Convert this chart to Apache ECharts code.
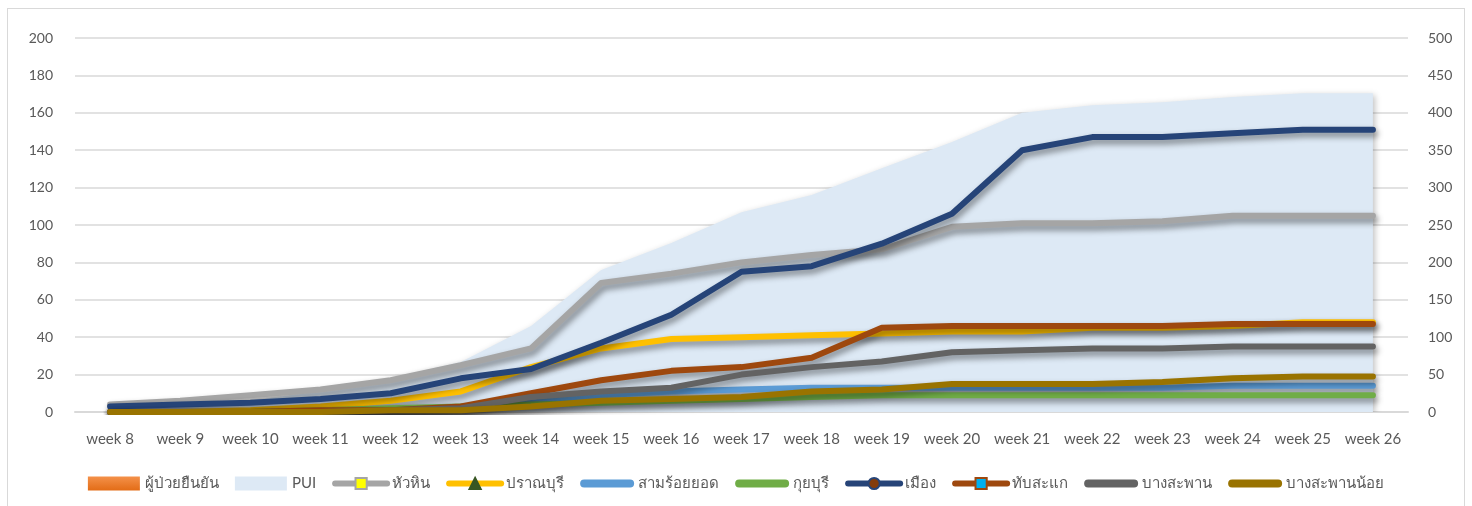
<!DOCTYPE html>
<html>
<head>
    <meta charset="utf-8" />
    <script src="https://cdn.jsdelivr.net/npm/echarts@6/dist/echarts.min.js"></script>
    <title>PUI</title>
    <style>
        html, body { margin: 0; padding: 0; background: #fff; }
        #frame { position: absolute; left: 7px; top: 8px; width: 1458px; height: 498px; border: 1px solid #d9d9d9; border-bottom: none; box-sizing: border-box; }
        #main-chart { position: absolute; left: 0; top: 0; width: 1472px; height: 506px; }
    </style>
</head>
<body>
    <div id="frame"></div>
    <div id="main-chart"></div>
    <script type="text/javascript">
        var weeks = ['week 8', 'week 9', 'week 10', 'week 11', 'week 12', 'week 13', 'week 14', 'week 15', 'week 16', 'week 17',
            'week 18', 'week 19', 'week 20', 'week 21', 'week 22', 'week 23', 'week 24', 'week 25', 'week 26'];
        var leftTicks = [0, 20, 40, 60, 80, 100, 120, 140, 160, 180, 200];
        var rightTicks = [0, 50, 100, 150, 200, 250, 300, 350, 400, 450, 500];

        // ผู้ป่วยยืนยัน - no bars visible in the picture
        var confirmed = [null, null, null, null, null, null, null, null, null, null, null, null, null, null, null, null, null, null, null];
        var pui = [5, 8, 15, 28, 45, 67, 115, 190, 226, 267, 290, 326, 361, 400, 410, 414, 421, 426, 426];
        var huaHin = [4, 6, 9, 12, 17, 25, 34, 69, 74, 80, 84, 87, 99, 101, 101, 102, 105, 105, 105];
        var pranburi = [0, 0, 1, 3, 6, 11, 24, 34, 39, 40, 41, 42, 43, 43, 45, 45, 46, 48, 48];
        var samRoiYot = [0, 0, 0, 0, 1, 2, 5, 9, 11, 12, 13, 13, 13, 13, 13, 13, 14, 14, 14];
        var kuiBuri = [0, 0, 0, 1, 2, 3, 4, 5, 6, 7, 8, 9, 9, 9, 9, 9, 9, 9, 9];
        var mueang = [3, 4, 5, 7, 10, 18, 23, 37, 52, 75, 78, 90, 106, 140, 147, 147, 149, 151, 151];
        var thapSakae = [0, 0, 0, 1, 1, 3, 10, 17, 22, 24, 29, 45, 46, 46, 46, 46, 47, 47, 47];
        var bangSaphan = [0, 0, 0, 0, 1, 2, 8, 11, 13, 20, 24, 27, 32, 33, 34, 34, 35, 35, 35];
        var bangSaphanNoi = [0, 0, 0, 0, 1, 1, 3, 6, 7, 8, 11, 12, 15, 15, 15, 16, 18, 19, 19];

        var shadow = { shadowColor: 'rgba(0,0,0,0.45)', shadowBlur: 6, shadowOffsetX: 2, shadowOffsetY: 4 };
        // thick rounded bar used as legend icon for plain lines
        var barIcon = 'path://M3,0 L49,0 A3,3 0 0 1 49,6 L3,6 A3,3 0 0 1 3,0 Z';

        function lineSeries(name, data, color, symbol, symbolColor, borderColor) {
            return {
                name: name,
                type: 'line',
                data: data,
                yAxisIndex: 0,
                showSymbol: false,
                symbol: symbol || 'none',
                symbolSize: 13,
                itemStyle: { color: symbolColor || color, borderColor: borderColor || color, borderWidth: 2 },
                lineStyle: Object.assign({ color: color, width: 6, cap: 'round', join: 'round' }, shadow),
                emphasis: { disabled: true },
                animation: false
            };
        }

        function markerLegend(name, lineColor) {
            return { name: name, lineStyle: { width: 6, color: lineColor, cap: 'round', shadowBlur: 0, shadowOffsetX: 0, shadowOffsetY: 0 } };
        }
        function plainLegend(name) {
            return { name: name, icon: barIcon };
        }

        var chart = echarts.init(document.getElementById('main-chart'), null, { renderer: 'canvas' });
        var option = {
            backgroundColor: 'transparent',
            animation: false,
            textStyle: { fontFamily: 'Lato, "Noto Sans", sans-serif' },
            grid: { left: 75, right: 64, top: 38, bottom: 94, containLabel: false },
            legend: {
                bottom: 10,
                left: 'center',
                itemWidth: 52,
                itemHeight: 14,
                itemGap: 16,
                textStyle: { color: '#595959', fontSize: 15, fontFamily: 'Lato, "Noto Sans", sans-serif' },
                data: [
                    { name: 'ผู้ป่วยยืนยัน', icon: 'rect' },
                    { name: 'PUI', icon: 'rect' },
                    markerLegend('หัวหิน', '#a5a5a5'),
                    markerLegend('ปราณบุรี', '#ffc000'),
                    plainLegend('สามร้อยยอด'),
                    plainLegend('กุยบุรี'),
                    markerLegend('เมือง', '#264478'),
                    markerLegend('ทับสะแก', '#9e480e'),
                    plainLegend('บางสะพาน'),
                    plainLegend('บางสะพานน้อย')
                ]
            },
            xAxis: {
                type: 'category',
                data: weeks,
                boundaryGap: true,
                axisLine: { show: true, lineStyle: { color: '#d9d9d9', width: 2 } },
                axisTick: { show: false },
                axisLabel: { color: '#595959', fontSize: 15, margin: 20, interval: 0 }
            },
            yAxis: [
                {
                    type: 'value', min: leftTicks[0], max: leftTicks[leftTicks.length - 1], interval: leftTicks[1] - leftTicks[0],
                    axisLine: { show: false }, axisTick: { show: false },
                    axisLabel: { color: '#595959', fontSize: 14, margin: 22 },
                    splitLine: { lineStyle: { color: '#d9d9d9', width: 1.5 } }
                },
                {
                    type: 'value', min: rightTicks[0], max: rightTicks[rightTicks.length - 1], interval: rightTicks[1] - rightTicks[0],
                    axisLine: { show: false }, axisTick: { show: false },
                    axisLabel: { color: '#595959', fontSize: 14, margin: 20 },
                    splitLine: { show: false }
                }
            ],
            series: [
                {
                    name: 'ผู้ป่วยยืนยัน',
                    type: 'bar',
                    yAxisIndex: 0,
                    data: confirmed,
                    itemStyle: {
                        color: new echarts.graphic.LinearGradient(0, 0, 0, 1, [
                            { offset: 0, color: '#f4914a' }, { offset: 1, color: '#e36c16' }
                        ])
                    }
                },
                {
                    name: 'PUI',
                    type: 'line',
                    yAxisIndex: 1,
                    data: pui,
                    showSymbol: false,
                    symbol: 'none',
                    itemStyle: { color: '#dde9f5' },
                    lineStyle: { width: 0, color: '#dde9f5' },
                    areaStyle: { color: '#dde9f5', opacity: 1, shadowColor: 'rgba(0,0,0,0.25)', shadowBlur: 6, shadowOffsetX: 2, shadowOffsetY: 2 },
                    z: 1
                },
                lineSeries('หัวหิน', huaHin, '#a5a5a5', 'rect', '#ffff00', '#a5a5a5'),
                lineSeries('ปราณบุรี', pranburi, '#ffc000', 'triangle', '#375623', '#375623'),
                lineSeries('สามร้อยยอด', samRoiYot, '#5b9bd5'),
                lineSeries('กุยบุรี', kuiBuri, '#70ad47'),
                lineSeries('เมือง', mueang, '#264478', 'circle', '#843c0c', '#264478'),
                lineSeries('ทับสะแก', thapSakae, '#9e480e', 'rect', '#00b0f0', '#9e480e'),
                lineSeries('บางสะพาน', bangSaphan, '#636363'),
                lineSeries('บางสะพานน้อย', bangSaphanNoi, '#997300')
            ]
        };
        chart.setOption(option);
    </script>
</body>
</html>
